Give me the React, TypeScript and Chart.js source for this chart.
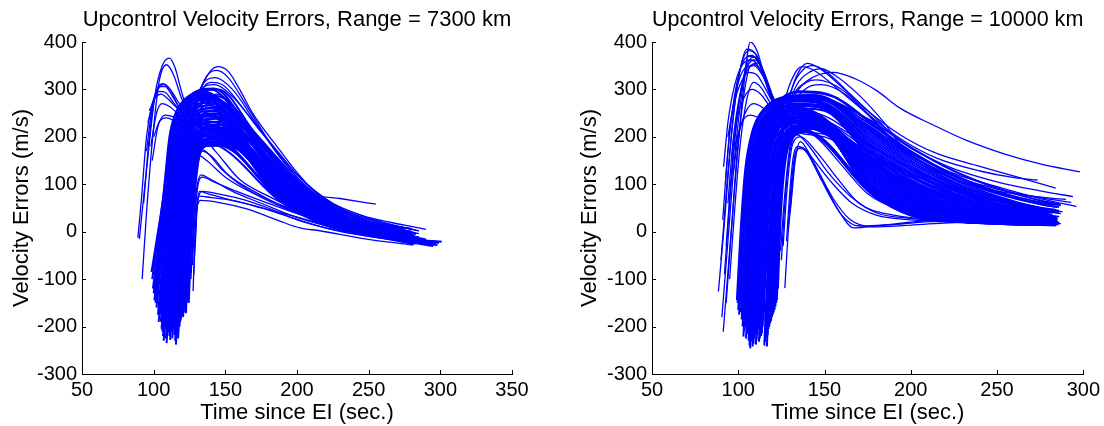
import React, { useEffect, useRef } from "react";
import { Chart, registerables } from "chart.js";

Chart.register(...registerables);

const FONT = "'Liberation Sans', Arial, Helvetica, sans-serif";
const BLUE = "#0000ff";

// ---------- tick labels ----------
const Y_TICKS = [-300, -200, -100, 0, 100, 200, 300, 400];
const X_TICKS_LEFT = [50, 100, 150, 200, 250, 300, 350];
const X_TICKS_RIGHT = [50, 100, 150, 200, 250, 300];

const TITLE_LEFT = "Upcontrol Velocity Errors, Range = 7300 km";
const TITLE_RIGHT = "Upcontrol Velocity Errors, Range = 10000 km";
const X_TITLE = "Time since EI (sec.)";
const Y_TITLE = "Velocity Errors (m/s)";

// ---------- Range = 7300 km : curves as [t, v, t, v, ...] ----------
const LEFT_EARLY: number[][] = [
  [90, -15, 95, 130, 101, 290, 106, 350, 111, 366, 115, 345, 119, 300, 123, 262, 128, 240, 145, 228, 170, 160, 200, 75, 235, 22, 265, 0],
  [92, -100, 95, 40, 100, 220, 104, 320, 109, 352, 114, 330, 119, 285, 124, 250, 130, 232, 150, 215, 175, 140, 205, 60, 240, 15, 268, -5],
  [93, 60, 97, 200, 101, 285, 106, 312, 111, 302, 116, 272, 121, 240, 127, 225, 148, 212, 172, 145, 200, 68, 232, 20, 262, -2],
  [95, 170, 99, 262, 104, 306, 108, 306, 113, 286, 118, 262, 124, 245, 140, 242, 168, 165, 198, 78, 230, 25, 260, 2],
  [96, 230, 100, 276, 104, 296, 108, 294, 113, 276, 118, 255, 124, 232, 142, 225, 170, 150, 200, 68, 230, 22, 262, 0],
  [97, 255, 101, 282, 105, 290, 110, 280, 116, 262, 122, 250, 140, 245, 170, 155, 200, 66, 232, 18, 265, -4],
  [98, 180, 102, 250, 106, 270, 111, 264, 117, 248, 123, 228, 140, 225, 172, 140, 202, 60, 235, 15, 268, -6],
  [99, 150, 103, 222, 108, 246, 114, 242, 120, 232, 128, 228, 145, 222, 175, 130, 205, 55, 238, 12, 270, -8],
  [100, 200, 104, 232, 109, 240, 115, 232, 121, 218, 128, 212, 148, 205, 178, 120, 208, 48, 240, 10, 272, -10],
  [89, -13, 91.5, 70, 95, 200, 99, 270, 103, 300, 107, 310, 112, 298, 118, 270, 124, 248, 132, 238, 150, 222, 180, 118, 210, 45, 245, 5, 270, -10],
];

const LEFT_MAIN: number[][] = [
  [98.5, -85, 103, 0, 106.5, 70, 111, 200, 116, 255, 124, 282, 132, 290, 160, 215, 190, 110, 220, 45, 250, 14, 272, 4],
  [99.5, -120, 104, -10, 108, 90, 112, 200, 118, 262, 127, 290, 136, 295, 160, 230, 190, 120, 220, 50, 250, 18, 276, 6],
  [100.5, -145, 105, -20, 109, 100, 113, 210, 120, 268, 130, 296, 140, 300, 165, 215, 195, 100, 225, 40, 255, 10, 278, -5],
  [102, -160, 106, -40, 110, 90, 115, 215, 122, 272, 133, 300, 142, 302, 165, 225, 195, 110, 225, 42, 255, 12, 280, 0],
  [103.5, -190, 107, -70, 111, 70, 116, 205, 124, 270, 135, 298, 145, 300, 170, 210, 200, 95, 230, 35, 260, 5, 282, -10],
  [104.5, -175, 108, -50, 112, 90, 117, 210, 125, 268, 136, 292, 170, 200, 200, 90, 230, 30, 260, 2, 285, -12],
  [105.5, -205, 109, -70, 113, 80, 118, 205, 126, 265, 138, 288, 170, 190, 200, 80, 230, 25, 260, -2, 288, -15],
  [106.5, -220, 110, -80, 114, 70, 119, 200, 127, 262, 139, 285, 170, 180, 200, 70, 230, 20, 262, -5, 290, -18],
  [107.5, -195, 111, -60, 115, 90, 120, 205, 128, 258, 140, 280, 172, 170, 202, 65, 232, 18, 265, -8, 292, -20],
  [108.5, -225, 112, -80, 116, 70, 121, 195, 129, 255, 140, 275, 172, 160, 202, 60, 235, 15, 268, -10, 295, -22],
  [109.5, -215, 113, -70, 117, 80, 122, 195, 130, 250, 141, 270, 172, 150, 205, 55, 235, 12, 270, -12, 297, -25],
  [110.5, -200, 114, -55, 118, 95, 123, 200, 131, 248, 142, 262, 175, 145, 205, 50, 238, 8, 272, -14, 301, -21],
  [111.5, -228, 115, -70, 119, 85, 124, 195, 132, 242, 142, 255, 175, 135, 205, 45, 240, 5, 275, -18, 298, -28],
  [112.5, -210, 116, -55, 120, 95, 125, 195, 133, 238, 143, 248, 175, 125, 208, 40, 240, 3, 275, -20, 295, -30],
  [113.5, -190, 117, -40, 121, 110, 126, 200, 134, 235, 145, 240, 178, 120, 208, 35, 242, 0, 278, -22],
  [114.5, -218, 118, -55, 122, 100, 127, 190, 135, 228, 146, 232, 178, 110, 210, 30, 245, -2, 280, -24],
  [115.5, -238, 119, -70, 123, 90, 128, 185, 136, 222, 147, 225, 180, 105, 212, 28, 248, -5, 282, -26],
  [116.5, -205, 120, -45, 124, 110, 129, 190, 137, 218, 148, 218, 180, 100, 212, 25, 250, -6, 284, -24],
  [117.5, -195, 121, -35, 125, 120, 130, 195, 138, 215, 150, 210, 182, 95, 215, 22, 252, -8, 285, -20],
  [118.5, -190, 121.5, -40, 125, 110, 130, 185, 139, 210, 150, 205, 182, 90, 215, 20, 255, -8, 288, -18],
  [119.5, -175, 122.5, -20, 126, 120, 131, 190, 140, 205, 152, 198, 185, 85, 218, 18, 258, -6, 290, -16],
  [120.5, -180, 123.5, -30, 127, 110, 132, 180, 141, 198, 185, 80, 220, 15, 260, -4, 285, -12],
  [121.5, -165, 124.5, -15, 128, 120, 133, 185, 142, 195, 186, 75, 222, 12, 262, -2, 282, -8],
  [122.5, -172, 125, -10, 128.5, 110, 134, 175, 143, 188, 188, 70, 225, 10, 265, 0, 280, -5],
  [123.5, -145, 126, 0, 129, 120, 135, 180, 145, 182, 190, 65, 228, 8, 270, 0],
  [124.5, -150, 126.5, 0, 130, 130, 136, 185, 146, 180, 190, 60, 230, 6, 272, -2],
];

const LEFT_MAIN_B: number[][] = [
  [99, -100, 103.5, 0, 107, 80, 111.5, 190, 117, 245, 126, 275, 138, 285, 162, 235, 185, 160, 205, 95, 230, 45, 258, 16, 280, 6],
  [100, -130, 104.5, -15, 108.5, 95, 112.5, 205, 119, 258, 129, 280, 142, 282, 168, 210, 192, 130, 215, 65, 240, 25, 265, 6, 283, -4],
  [101.3, -150, 105.5, -25, 109.5, 95, 114, 210, 121, 265, 132, 288, 146, 285, 170, 205, 195, 115, 220, 55, 248, 15, 275, -8, 290, -18],
  [103, -175, 106.5, -55, 110.5, 80, 115.5, 205, 123, 265, 134, 285, 150, 270, 175, 190, 200, 105, 225, 50, 255, 14, 283, -5],
  [104, -160, 107.5, -45, 111.5, 85, 116.5, 208, 124.5, 262, 137, 278, 152, 262, 178, 175, 203, 92, 228, 40, 258, 5, 286, -18],
  [105, -190, 108.5, -60, 112.5, 80, 117.5, 200, 125.5, 258, 138, 272, 155, 250, 180, 165, 205, 85, 232, 32, 262, 0, 290, -22],
  [106, -210, 109.5, -75, 113.5, 75, 118.5, 198, 126.5, 255, 139, 266, 158, 235, 182, 150, 208, 75, 235, 28, 265, -5, 293, -24],
  [107, -230, 110.5, -85, 114.5, 68, 119.5, 195, 127.5, 250, 140, 260, 160, 225, 185, 138, 210, 65, 238, 22, 268, -8, 296, -26],
  [108, -205, 111.5, -65, 115.5, 85, 120.5, 198, 128.5, 245, 141, 255, 162, 212, 187, 125, 212, 58, 240, 18, 270, -10, 299, -24],
  [109, -235, 112.5, -85, 116.5, 72, 121.5, 192, 129.5, 242, 142, 250, 165, 200, 190, 112, 215, 50, 243, 12, 273, -14, 296, -28],
  [110, -212, 113.5, -70, 117.5, 85, 122.5, 195, 130.5, 238, 143, 244, 168, 185, 192, 100, 218, 42, 246, 8, 276, -16, 292, -26],
  [111, -220, 114.5, -70, 118.5, 88, 123.5, 193, 131.5, 234, 144, 238, 170, 170, 195, 90, 220, 35, 250, 4, 278, -18],
  [112, -200, 115.5, -55, 119.5, 100, 124.5, 196, 132.5, 230, 145, 232, 172, 158, 198, 80, 222, 30, 252, 0, 280, -20],
  [113, -225, 116.5, -65, 120.5, 92, 125.5, 192, 133.5, 226, 146, 226, 174, 145, 200, 70, 225, 25, 255, -4, 282, -22],
  [114, -200, 117.5, -50, 121.5, 102, 126.5, 192, 134.5, 222, 147, 220, 176, 132, 202, 60, 228, 20, 258, -6, 284, -20],
  [115, -230, 118.5, -62, 122.5, 95, 127.5, 188, 135.5, 218, 148, 214, 178, 120, 204, 52, 232, 16, 262, -8, 286, -22],
  [116, -215, 119.5, -50, 123.5, 105, 128.5, 188, 136.5, 214, 149, 208, 180, 110, 206, 45, 236, 12, 266, -10, 288, -20],
  [117, -225, 120.5, -55, 124.5, 100, 129.5, 185, 137.5, 210, 150, 202, 182, 100, 208, 40, 240, 8, 270, -10],
  [118, -200, 121, -40, 125, 112, 130, 188, 138.5, 206, 151, 198, 184, 92, 210, 36, 244, 6, 274, -10],
  [119, -185, 122, -30, 125.5, 115, 130.5, 186, 139.5, 202, 152, 194, 186, 86, 212, 32, 248, 4, 276, -10],
  [120, -178, 123, -25, 126.5, 115, 131.5, 184, 140.5, 198, 153, 190, 188, 80, 214, 28, 252, 2, 278, -10],
  [121, -170, 124, -20, 127.5, 112, 132.5, 180, 141.5, 194, 154, 186, 190, 75, 216, 25, 256, 0, 280, -8],
  [122, -160, 124.8, -8, 128, 118, 133.5, 180, 142.5, 190, 156, 180, 192, 70, 218, 22, 260, -2],
  [123, -150, 125.5, 0, 128.8, 122, 134.5, 178, 144, 185, 158, 175, 194, 66, 220, 20, 262, -2],
  [124, -135, 126.2, 5, 129.5, 125, 135.5, 180, 145, 182, 160, 172, 196, 62, 222, 18, 264, -4],
];

const LEFT_UPPER: number[][] = [
  [118, -60, 122, 120, 127, 230, 133, 300, 140, 340, 145, 348, 152, 338, 160, 300, 169, 250, 188, 172, 200, 125, 216, 74, 240, 40, 262, 18, 285, 2],
  [117, -100, 121, 80, 126, 220, 132, 295, 139, 335, 144, 340, 152, 325, 165, 265, 185, 170, 205, 100, 225, 55, 255, 22, 280, 6],
  [116, -130, 120, 60, 125, 210, 131, 290, 137, 320, 143, 325, 155, 300, 170, 235, 190, 150, 210, 85, 235, 40, 260, 14, 285, -4],
  [119, -40, 123, 140, 128, 245, 134, 300, 140, 315, 148, 310, 165, 250, 185, 175, 205, 105, 230, 50, 260, 18, 285, 2],
  [114, -140, 118, 40, 123, 200, 129, 275, 135, 305, 142, 310, 155, 285, 175, 210, 200, 120, 225, 60, 250, 30, 275, 14, 290, 5],
  [125, 0, 130, 170, 136, 260, 144, 290, 160, 250, 180, 170, 200, 105, 211, 80, 230, 70, 255, 58],
];

const LEFT_LOW: number[][] = [
  [127.5, -125, 129, 0, 130.5, 55, 133, 66, 145, 62, 165, 48, 190, 20, 202, 8, 216, 2, 245, -14, 270, -24, 281, -28],
  [126, -100, 128, 20, 130, 90, 133, 120, 140, 110, 155, 85, 175, 60, 200, 30, 230, 5, 260, -12, 283, -25],
  [125, -80, 127, 40, 129.5, 130, 132, 160, 137, 150, 150, 115, 170, 80, 195, 45, 225, 15, 255, -5, 278, -18],
  [124, -120, 126, 20, 128.5, 140, 131, 175, 136, 170, 148, 130, 165, 90, 190, 55, 220, 22, 250, 0, 275, -14],
  [126.5, -60, 128.5, 60, 131, 140, 134, 170, 140, 160, 152, 120, 170, 85, 200, 40, 235, 10, 265, -10],
  [125.5, -40, 128, 100, 131, 180, 135, 195, 143, 170, 160, 110, 180, 75, 205, 40, 240, 8, 270, -15],
  [129, -30, 130.5, 60, 132, 85, 138, 80, 150, 70, 170, 55, 195, 35, 225, 10, 255, -8, 280, -20],
  [128, -90, 129.5, 20, 131, 70, 134, 85, 145, 80, 160, 70, 180, 50, 200, 25, 225, 5, 255, -12, 278, -22],
  [127, -70, 129, 40, 131, 100, 134, 115, 142, 105, 158, 85, 178, 62, 200, 38, 228, 12, 258, -8, 282, -20],
  [128.5, -50, 130, 50, 132, 75, 140, 72, 155, 66, 175, 50, 198, 28, 222, 6, 250, -10, 276, -20],
];

// ---------- Range = 10000 km ----------
const RIGHT_EARLY: number[][] = [
  [91.3, -211, 95, -40, 99, 140, 103, 300, 107, 400, 111, 380, 115, 330, 120, 272, 125, 240, 135, 228, 160, 195, 190, 140, 220, 95, 250, 65, 284, 45],
  [88.5, -126, 92, 20, 96, 200, 100, 320, 105, 385, 110, 375, 114, 336, 119, 282, 124, 250, 135, 240, 165, 190, 195, 130, 225, 88, 255, 60, 283, 42],
  [90, -60, 93, 80, 97, 240, 101, 340, 106, 382, 111, 370, 116, 320, 121, 268, 126, 232, 140, 220, 170, 170, 200, 115, 230, 75, 260, 52, 282, 40],
  [91, 25, 94, 170, 98, 290, 103, 360, 108, 372, 113, 350, 118, 300, 123, 262, 128, 245, 145, 240, 170, 195, 200, 135, 230, 88, 260, 58, 285, 42],
  [92, -90, 95, 60, 99, 230, 104, 340, 109, 368, 114, 340, 119, 290, 124, 250, 129, 225, 145, 215, 175, 150, 205, 95, 235, 60, 262, 42, 281, 36],
  [93, -30, 96, 120, 100, 262, 105, 345, 110, 362, 115, 335, 120, 285, 125, 245, 130, 220, 150, 205, 180, 138, 210, 85, 240, 55, 268, 38, 286, 32],
  [91.5, 137, 94, 230, 98, 310, 103, 355, 108, 362, 113, 340, 118, 296, 123, 265, 128, 255, 145, 250, 175, 185, 205, 122, 235, 80, 262, 55, 288, 42],
  [94, 60, 97, 192, 101, 290, 106, 345, 110, 352, 115, 325, 120, 280, 125, 242, 130, 215, 150, 200, 180, 130, 210, 80, 240, 50, 268, 36, 284, 32],
  [92.5, 100, 95, 210, 99, 300, 104, 345, 109, 350, 114, 330, 119, 290, 124, 262, 130, 250, 148, 238, 175, 175, 205, 115, 235, 74, 262, 50, 283, 40],
  [95, -100, 98, 50, 101, 180, 105, 280, 109, 315, 113, 305, 118, 275, 123, 248, 128, 228, 145, 215, 175, 140, 205, 82, 235, 52, 265, 35, 282, 30],
  [96, 150, 99, 232, 103, 280, 108, 300, 113, 290, 118, 266, 124, 245, 132, 235, 150, 220, 180, 142, 210, 82, 240, 50, 270, 35, 285, 30],
  [94, 200, 97, 262, 101, 310, 106, 336, 111, 330, 116, 300, 121, 266, 126, 240, 134, 232, 155, 212, 180, 150, 210, 90, 240, 56, 268, 38, 286, 32],
  [97, 120, 100, 200, 104, 250, 109, 270, 114, 262, 119, 246, 125, 230, 135, 228, 155, 205, 180, 132, 210, 74, 240, 42, 270, 28, 283, 25],
  [98, 180, 102, 230, 107, 246, 112, 240, 117, 230, 123, 222, 135, 225, 160, 195, 185, 126, 215, 68, 245, 40, 275, 26, 284, 24],
  [93, -150, 96, 0, 99, 150, 103, 282, 107, 350, 112, 356, 117, 315, 122, 266, 127, 238, 140, 228, 170, 178, 200, 122, 230, 82, 262, 55, 287, 38],
  [90.5, -180, 94, -20, 98, 160, 102, 290, 106, 370, 111, 366, 116, 322, 121, 268, 126, 245, 145, 236, 175, 168, 205, 108, 235, 70, 265, 48, 286, 40],
];

const RIGHT_MAIN: number[][] = [
  [99.2, -144, 101.5, 10, 104, 130, 108, 210, 114, 255, 125, 280, 140, 285, 175, 225, 200, 160, 225, 110, 250, 75, 275, 50, 283, 45],
  [100, -165, 102.3, 0, 105, 130, 109, 215, 116, 262, 128, 285, 143, 288, 175, 230, 200, 168, 225, 118, 250, 82, 275, 58, 285, 52],
  [101, -152, 103.3, 10, 106, 135, 110, 215, 117, 260, 130, 285, 145, 287, 175, 222, 200, 155, 225, 105, 250, 72, 277, 48, 286, 44],
  [102, -185, 104.5, -10, 107, 120, 111, 205, 118, 255, 131, 282, 146, 283, 175, 215, 200, 145, 225, 98, 250, 66, 278, 44],
  [103, -221, 105.5, -30, 108, 110, 112, 200, 119, 250, 132, 278, 147, 278, 175, 205, 200, 135, 225, 90, 250, 60, 280, 40],
  [104, -200, 106.5, -20, 109, 115, 113, 200, 120, 248, 133, 275, 148, 272, 175, 195, 200, 125, 225, 82, 250, 55, 282, 36],
  [105, -194, 107.5, -15, 110, 120, 114, 200, 121, 245, 134, 270, 149, 266, 175, 185, 200, 115, 225, 75, 250, 50, 283, 32],
  [106, -230, 108.5, -30, 111, 110, 115, 195, 122, 240, 135, 265, 150, 260, 175, 175, 200, 105, 225, 68, 250, 45, 284, 30],
  [106.9, -246, 109.3, -40, 112, 100, 116, 190, 123, 238, 136, 260, 150, 255, 175, 165, 200, 98, 225, 62, 250, 40, 285, 27],
  [107.8, -220, 110, -30, 112.8, 110, 117, 195, 124, 240, 137, 258, 175, 158, 200, 90, 225, 56, 250, 36, 283, 25],
  [108.8, -236, 111, -40, 113.8, 100, 118, 190, 125, 236, 137, 252, 175, 150, 200, 84, 225, 50, 250, 32, 285, 22],
  [109.7, -215, 112, -25, 114.7, 110, 119, 192, 126, 235, 138, 248, 175, 142, 200, 78, 225, 46, 250, 30, 282, 20],
  [110.6, -228, 113, -35, 115.6, 105, 120, 190, 127, 232, 139, 244, 175, 135, 200, 72, 225, 42, 250, 27, 286, 18],
  [111.5, -205, 113.8, -15, 116.5, 115, 121, 195, 128, 232, 140, 240, 175, 128, 200, 66, 225, 38, 250, 25, 284, 18],
  [112.5, -225, 114.8, -30, 117.5, 108, 122, 190, 129, 228, 141, 236, 175, 120, 200, 60, 225, 35, 250, 23, 283, 17],
  [113.7, -214, 116, -20, 118.5, 112, 123, 192, 130, 228, 142, 232, 175, 112, 200, 55, 225, 32, 250, 22, 285, 16],
  [114.6, -190, 116.8, -5, 119.4, 120, 124, 195, 131, 228, 143, 230, 175, 105, 200, 50, 225, 30, 250, 20, 282, 15],
  [115.6, -232, 118, -30, 120.5, 110, 125, 188, 132, 222, 144, 225, 175, 100, 200, 46, 225, 28, 250, 20, 280, 15],
  [116.6, -242, 119, -35, 121.5, 105, 126, 185, 133, 220, 145, 222, 175, 95, 200, 43, 225, 26, 250, 19, 284, 14],
  [117.5, -205, 119.7, -15, 122.2, 115, 126.8, 190, 134, 220, 146, 220, 175, 92, 200, 42, 225, 25, 250, 18, 283, 14],
  [118.5, -193, 120.6, -5, 123, 120, 127.5, 192, 135, 218, 147, 216, 176, 88, 200, 40, 225, 24, 250, 18, 280, 14],
  [119.5, -180, 121.5, 0, 124, 125, 128.5, 195, 136, 218, 148, 214, 177, 85, 200, 38, 225, 23, 250, 18, 278, 15],
  [120.5, -170, 122.5, 5, 125, 128, 129.5, 195, 137, 216, 178, 82, 200, 36, 225, 22, 250, 17, 276, 14],
  [121.5, -158, 123.3, 10, 125.7, 130, 130, 195, 138, 212, 178, 78, 200, 35, 225, 22, 250, 18, 279, 15],
  [122.4, -144, 124, 15, 126.3, 132, 131, 198, 139, 210, 180, 75, 205, 33, 230, 22, 255, 18, 281, 15],
  [123, -120, 124.6, 30, 127, 140, 132, 200, 140, 210, 180, 72, 205, 32, 230, 21, 260, 17, 284, 13],
  [110, -160, 112.5, 20, 115, 150, 119, 230, 125, 275, 135, 296, 150, 292, 175, 235, 200, 170, 225, 120, 250, 85, 278, 60, 287, 56],
  [108, -180, 110.5, 0, 113, 140, 117, 225, 123, 272, 133, 294, 155, 285, 180, 220, 205, 150, 230, 105, 255, 75, 280, 55, 286, 52],
];

const RIGHT_MAIN_B: number[][] = [
  [99.6, -150, 101.9, 5, 104.5, 132, 108.5, 212, 115, 258, 127, 283, 142, 286, 175, 238, 200, 178, 225, 128, 250, 92, 275, 66, 286, 58],
  [100.5, -175, 103, 0, 105.5, 130, 109.5, 212, 116.5, 258, 129, 282, 144, 284, 175, 218, 200, 150, 225, 102, 250, 70, 276, 50, 284, 46],
  [101.5, -170, 104, -5, 106.5, 125, 110.5, 208, 117.5, 256, 130, 280, 146, 280, 175, 210, 200, 140, 225, 94, 250, 64, 278, 44, 285, 40],
  [102.5, -200, 105, -20, 107.5, 115, 111.5, 202, 118.5, 252, 131, 278, 147, 275, 175, 200, 200, 130, 225, 86, 250, 58, 280, 38],
  [103.5, -210, 106, -25, 108.5, 112, 112.5, 200, 119.5, 250, 132, 275, 148, 270, 175, 190, 200, 120, 225, 78, 250, 52, 282, 34],
  [104.5, -225, 107, -35, 109.5, 108, 113.5, 198, 120.5, 246, 133, 270, 149, 264, 175, 180, 200, 110, 225, 72, 250, 48, 283, 31],
  [105.5, -215, 108, -30, 110.5, 112, 114.5, 196, 121.5, 242, 134, 266, 150, 258, 175, 170, 200, 102, 225, 65, 250, 42, 284, 28],
  [106.5, -240, 109, -40, 111.5, 105, 115.5, 192, 122.5, 240, 135, 262, 175, 160, 200, 94, 225, 58, 250, 38, 285, 26],
  [107.3, -232, 109.6, -35, 112.3, 106, 116.5, 192, 123.5, 238, 136, 256, 175, 153, 200, 87, 225, 53, 250, 34, 283, 24],
  [108.3, -242, 110.6, -45, 113.3, 100, 117.5, 190, 124.5, 236, 137, 252, 175, 146, 200, 81, 225, 48, 250, 31, 285, 21],
  [109.2, -225, 111.5, -30, 114.2, 105, 118.5, 190, 125.5, 234, 138, 248, 175, 138, 200, 75, 225, 44, 250, 28, 282, 19],
  [110.2, -238, 112.5, -40, 115.2, 102, 119.5, 188, 126.5, 232, 139, 244, 175, 132, 200, 69, 225, 40, 250, 26, 286, 17],
  [111, -218, 113.3, -25, 116, 110, 120.5, 192, 127.5, 232, 140, 241, 175, 124, 200, 63, 225, 36, 250, 24, 284, 17],
  [112, -232, 114.3, -35, 117, 105, 121.5, 188, 128.5, 228, 141, 236, 175, 116, 200, 58, 225, 33, 250, 22, 283, 16],
  [113.2, -220, 115.5, -25, 118, 110, 122.5, 190, 129.5, 228, 142, 232, 175, 108, 200, 52, 225, 31, 250, 21, 285, 15],
  [114.1, -200, 116.3, -10, 119, 118, 123.5, 193, 130.5, 228, 143, 230, 175, 102, 200, 48, 225, 29, 250, 20, 282, 15],
  [115.1, -240, 117.5, -35, 120, 108, 124.5, 188, 131.5, 222, 144, 225, 175, 97, 200, 45, 225, 27, 250, 19, 280, 14],
  [116.1, -225, 118.5, -30, 121, 108, 125.5, 186, 132.5, 220, 145, 222, 175, 93, 200, 42, 225, 25, 250, 18, 284, 14],
  [117, -218, 119.3, -20, 121.8, 112, 126.3, 188, 133.5, 220, 146, 220, 175, 90, 200, 41, 225, 24, 250, 18, 283, 14],
  [118, -200, 120.1, -10, 122.6, 118, 127, 190, 134.5, 218, 147, 216, 176, 86, 200, 39, 225, 23, 250, 17, 280, 14],
  [119, -188, 121, -3, 123.5, 122, 128, 193, 135.5, 218, 148, 214, 177, 83, 200, 37, 225, 22, 250, 17, 278, 15],
  [120, -175, 122, 2, 124.5, 126, 129, 195, 136.5, 216, 178, 80, 200, 35, 225, 22, 250, 17, 276, 14],
  [121, -165, 123, 8, 125.3, 129, 129.8, 195, 137.5, 212, 178, 77, 200, 34, 225, 21, 250, 17, 279, 15],
  [122, -150, 123.7, 12, 126, 131, 130.5, 197, 138.5, 210, 180, 74, 205, 32, 230, 21, 255, 17, 281, 15],
];

const RIGHT_UPPER: number[][] = [
  [118, -110, 121, 60, 125, 200, 131, 280, 140, 318, 155, 336, 168, 322, 180, 298, 194, 260, 213, 225, 232, 193, 255, 163, 275, 143, 298, 126],
  [117, -120, 120, 50, 124, 190, 129, 275, 134, 330, 140, 355, 147, 345, 160, 305, 175, 255, 194, 204, 215, 165, 240, 138, 262, 115, 284, 92],
  [116, -90, 119, 70, 123, 210, 128, 290, 133, 335, 137, 348, 144, 340, 158, 300, 175, 248, 194, 196, 215, 155, 240, 128, 260, 114, 273.5, 109],
  [119, -60, 122, 100, 126, 230, 132, 310, 138, 343, 143, 350, 150, 340, 165, 290, 180, 238, 194, 190, 220, 140, 250, 105, 275, 86, 294, 74],
  [120, -30, 123, 130, 128, 250, 134, 310, 142, 338, 148, 344, 156, 330, 170, 288, 185, 228, 194, 184, 220, 130, 250, 95, 275, 70, 296, 53],
  [121, -10, 124, 150, 129, 255, 135, 300, 145, 320, 160, 300, 178, 238, 194, 178, 220, 124, 250, 90, 275, 72, 293, 62],
  [122, 0, 125, 150, 130, 250, 137, 295, 148, 310, 162, 290, 180, 228, 194, 172, 220, 118, 250, 86, 278, 72, 290, 68],
];

const RIGHT_LOW: number[][] = [
  [127, -119, 129, 0, 130.8, 67, 133, 150, 136, 190, 142, 160, 155, 100, 166, 60, 180, 35, 200, 25, 230, 22, 260, 18, 285, 15],
  [125, -60, 127, 60, 130, 170, 134, 205, 140, 185, 152, 125, 165, 75, 180, 40, 200, 28, 240, 20, 280, 16],
  [126, -30, 128.5, 100, 131.5, 185, 136, 200, 145, 170, 158, 110, 170, 60, 190, 35, 220, 25, 260, 20, 287, 17],
  [128, -20, 130, 90, 132, 160, 135, 180, 140, 165, 148, 110, 158, 45, 167, 8, 180, 12, 200, 20, 217, 25, 250, 22, 280, 18],
  [129, 10, 131, 110, 133.5, 170, 137, 178, 143, 150, 150, 100, 160, 35, 170, 12, 190, 15, 215, 22, 250, 20, 282, 15],
  [130, 40, 132, 130, 135, 175, 139, 172, 146, 130, 155, 70, 165, 25, 178, 10, 200, 14, 230, 20, 270, 17],
  [124.5, -40, 127, 80, 130, 180, 135, 215, 145, 200, 160, 140, 175, 80, 195, 45, 225, 30, 260, 24, 286, 20],
];

// line widths per group (style, not data)
const W_THIN = 1.3;
const W_DENSE = 2;

// ---------- helpers ----------
function toPoints(flat: number[]) {
  const pts: { x: number; y: number }[] = [];
  for (let i = 0; i + 1 < flat.length; i += 2) pts.push({ x: flat[i], y: flat[i + 1] });
  return pts;
}

const innerTicks = {
  id: "innerTicks",
  afterDraw(chart: any) {
    const { ctx, chartArea } = chart;
    const xs = chart.scales.x;
    const ys = chart.scales.y;
    ctx.save();
    ctx.strokeStyle = "#000";
    ctx.lineWidth = 1;
    ctx.beginPath();
    xs.ticks.forEach((t: any) => {
      const px = Math.round(xs.getPixelForValue(t.value)) + 0.5;
      ctx.moveTo(px, chartArea.bottom);
      ctx.lineTo(px, chartArea.bottom - 4);
    });
    ys.ticks.forEach((t: any) => {
      const py = Math.round(ys.getPixelForValue(t.value)) + 0.5;
      ctx.moveTo(chartArea.left, py);
      ctx.lineTo(chartArea.left + 4, py);
    });
    ctx.stroke();
    ctx.restore();
  },
};

type Group = { curves: number[][]; width: number };

type PanelProps = {
  title: string;
  xTicks: number[];
  groups: Group[];
  yAxisWidth: number;
  padRight: number;
  yTitlePad: number;
};

function Panel({ title, xTicks, groups, yAxisWidth, padRight, yTitlePad }: PanelProps) {
  const ref = useRef<HTMLCanvasElement>(null);
  useEffect(() => {
    if (!ref.current) return;
    const datasets = groups.flatMap((g) =>
      g.curves.map((c) => ({
        data: toPoints(c),
        borderColor: BLUE,
        borderWidth: g.width,
        pointRadius: 0,
        fill: false,
        cubicInterpolationMode: "monotone" as const,
      }))
    );
    const tickFont = { family: FONT, size: 20, weight: "normal" as const };
    const titleFont = { family: FONT, size: 22, weight: "normal" as const, lineHeight: 1.2 };
    const chart = new Chart(ref.current, {
      type: "line",
      data: { datasets },
      plugins: [innerTicks],
      options: {
        responsive: false,
        animation: false,
        devicePixelRatio: 1,
        events: [],
        layout: { padding: { left: 0, right: padRight, top: 0, bottom: 0 } },
        plugins: {
          legend: { display: false },
          tooltip: { enabled: false },
          title: {
            display: true,
            fullSize: false,
            text: title,
            color: "#000",
            font: titleFont,
            padding: { top: 7, bottom: 8.6 },
          },
        },
        scales: {
          x: {
            type: "linear",
            min: xTicks[0],
            max: xTicks[xTicks.length - 1],
            afterBuildTicks: (s: any) => {
              s.ticks = xTicks.map((v) => ({ value: v }));
            },
            afterFit: (s: any) => {
              s.height = 52;
            },
            ticks: { color: "#000", font: tickFont, padding: 4, maxRotation: 0, autoSkip: false },
            grid: { display: false, drawTicks: false },
            border: { display: true, color: "#000", width: 1 },
            title: { display: true, text: X_TITLE, color: "#000", font: titleFont, padding: { top: 0, bottom: 0 } },
          },
          y: {
            type: "linear",
            min: Y_TICKS[0],
            max: Y_TICKS[Y_TICKS.length - 1],
            afterBuildTicks: (s: any) => {
              s.ticks = Y_TICKS.map((v) => ({ value: v }));
            },
            afterFit: (s: any) => {
              s.width = yAxisWidth;
            },
            ticks: { color: "#000", font: tickFont, padding: 5, autoSkip: false },
            grid: { display: false, drawTicks: false },
            border: { display: true, color: "#000", width: 1 },
            title: { display: true, text: Y_TITLE, color: "#000", font: titleFont, padding: { top: yTitlePad, bottom: 0 } },
          },
        },
      },
    } as any);
    return () => chart.destroy();
  }, []);
  return <canvas ref={ref} width={552} height={426} style={{ display: "block", width: 552, height: 426 }} />;
}

export default function App() {
  return (
    <div style={{ position: "absolute", left: 0, top: 0, width: 1104, height: 426, display: "flex", background: "#fff" }}>
      <Panel
        title={TITLE_LEFT}
        xTicks={X_TICKS_LEFT}
        groups={[
          { curves: LEFT_EARLY, width: W_THIN },
          { curves: LEFT_MAIN, width: W_DENSE },
          { curves: LEFT_MAIN_B, width: W_DENSE },
          { curves: LEFT_UPPER, width: W_THIN },
          { curves: LEFT_LOW, width: W_THIN },
        ]}
        yAxisWidth={82}
        padRight={40}
        yTitlePad={8.3}
      />
      <Panel
        title={TITLE_RIGHT}
        xTicks={X_TICKS_RIGHT}
        groups={[
          { curves: RIGHT_EARLY, width: W_THIN },
          { curves: RIGHT_MAIN, width: W_DENSE },
          { curves: RIGHT_MAIN_B, width: W_DENSE },
          { curves: RIGHT_UPPER, width: W_THIN },
          { curves: RIGHT_LOW, width: W_THIN },
        ]}
        yAxisWidth={100}
        padRight={20}
        yTitlePad={24.8}
      />
    </div>
  );
}
